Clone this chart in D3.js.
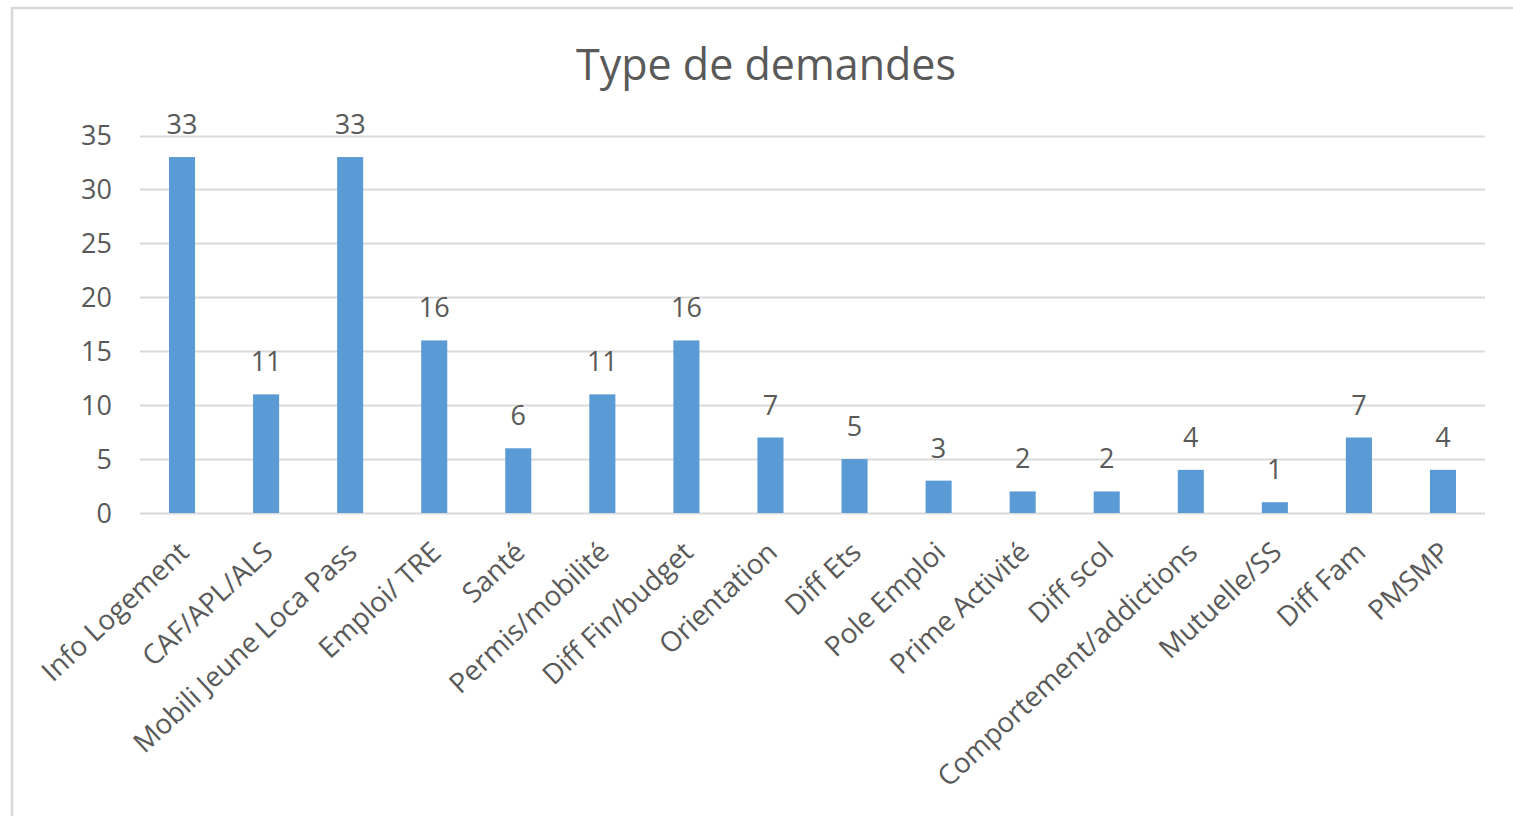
<!DOCTYPE html>
<html>
<head>
<meta charset="utf-8">
<script src="https://cdn.jsdelivr.net/npm/d3@7"></script>
<style>
  body { margin: 0; background: #fff; }
  text { font-family: "Open Sans", sans-serif; fill: #595959; }
</style>
</head>
<body>
<svg class="chart"></svg>
<script>
var categories = ["Info Logement", "CAF/APL/ALS", "Mobili Jeune Loca Pass", "Emploi/ TRE", "Santé",
    "Permis/mobilité", "Diff Fin/budget", "Orientation", "Diff Ets", "Pole Emploi", "Prime Activité",
    "Diff scol", "Comportement/addictions", "Mutuelle/SS", "Diff Fam", "PMSMP"];
var values = [33, 11, 33, 16, 6, 11, 16, 7, 5, 3, 2, 2, 4, 1, 7, 4];
var yTicks = [0, 5, 10, 15, 20, 25, 30, 35];
var title = "Type de demandes";

var width = 1513,
    height = 816;

var svg = d3.select('.chart')
    .attr("width", width)
    .attr("height", height);

// chart frame
svg.append("rect")
    .attr("x", 12)
    .attr("y", 8)
    .attr("width", width + 20)
    .attr("height", height + 20)
    .attr("fill", "none")
    .attr("stroke", "#d9d9d9")
    .attr("stroke-width", 2.5);

svg.append("text")
    .text(title)
    .attr("x", 766)
    .attr("y", 80)
    .attr("text-anchor", "middle")
    .attr("font-size", 43);

var x = d3.scaleBand()
    .domain(categories)
    .range([140, 1485])
    .paddingInner(0.69)
    .paddingOuter(0.345);

var y = d3.scaleLinear()
    .domain([0, 35])
    .range([513, 135.5]);

// gridlines
svg.selectAll("line.grid")
    .data(yTicks)
    .enter()
    .append("line")
    .attr("class", "grid")
    .attr("x1", 140)
    .attr("x2", 1485)
    .attr("y1", function (d) { return Math.round(y(d)) + 0.5; })
    .attr("y2", function (d) { return Math.round(y(d)) + 0.5; })
    .attr("stroke", "#d9d9d9")
    .attr("stroke-width", 2);

// y labels
svg.selectAll("text.ytick")
    .data(yTicks)
    .enter()
    .append("text")
    .attr("class", "ytick")
    .text(function (d) { return d; })
    .attr("x", 112)
    .attr("y", function (d) { return y(d); })
    .attr("dy", "0.36em")
    .attr("text-anchor", "end")
    .attr("font-size", 27);

// bars
svg.selectAll("rect.bar")
    .data(values)
    .enter()
    .append("rect")
    .attr("class", "bar")
    .attr("x", function (d, i) { return x(categories[i]); })
    .attr("width", x.bandwidth())
    .attr("y", function (d) { return y(d); })
    .attr("height", function (d) { return y(0) - y(d); })
    .attr("fill", "#5b9bd5");

// data labels
svg.selectAll("text.value")
    .data(values)
    .enter()
    .append("text")
    .attr("class", "value")
    .text(function (d) { return d; })
    .attr("x", function (d, i) { return x(categories[i]) + x.bandwidth() / 2; })
    .attr("y", function (d) { return y(d) - 23; })
    .attr("text-anchor", "middle")
    .attr("font-size", 27);

// category labels
svg.selectAll("text.cat")
    .data(categories)
    .enter()
    .append("text")
    .attr("class", "cat")
    .text(function (d) { return d; })
    .attr("transform", function (d) {
        return "translate(" + (x(d) + x.bandwidth() / 2 - 5) + ",540) rotate(-43)";
    })
    .attr("dy", "0.71em")
    .attr("text-anchor", "end")
    .attr("font-size", 27.8);
</script>
</body>
</html>
